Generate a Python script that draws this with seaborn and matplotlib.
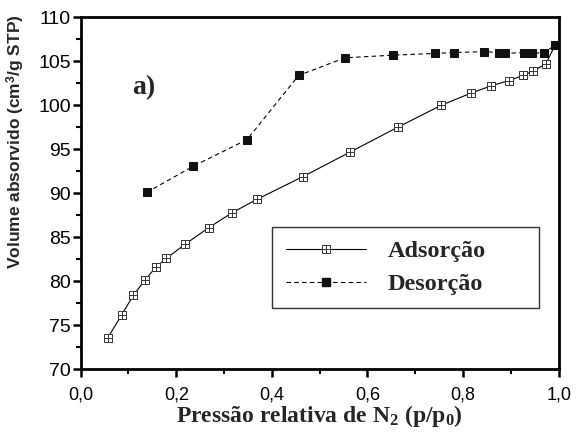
import numpy as np
import pandas as pd
import matplotlib
matplotlib.use("Agg")
import matplotlib.pyplot as plt
from matplotlib.path import Path
from matplotlib.lines import Line2D
from matplotlib.ticker import MultipleLocator, FuncFormatter
import seaborn as sns

# Data
ads_x = [0.057, 0.086, 0.110, 0.134, 0.157, 0.179, 0.218, 0.268, 0.317, 0.368,
         0.465, 0.564, 0.663, 0.754, 0.817, 0.858, 0.895, 0.926, 0.946, 0.973, 0.992]
ads_y = [73.6, 76.2, 78.4, 80.1, 81.6, 82.6, 84.2, 86.1, 87.8, 89.3,
         91.9, 94.7, 97.5, 100.0, 101.4, 102.2, 102.8, 103.4, 103.9, 104.7, 106.8]
des_x = [0.138, 0.236, 0.348, 0.456, 0.553, 0.654, 0.742, 0.782, 0.843, 0.875,
         0.887, 0.927, 0.944, 0.969, 0.992]
des_y = [90.1, 93.1, 96.1, 103.4, 105.4, 105.7, 105.9, 106.0, 106.1, 106.0,
         105.9, 106.0, 105.9, 106.0, 106.8]
series_names = ["Adsorção", "Desorção"]
x_ticks = [0.0, 0.2, 0.4, 0.6, 0.8, 1.0]
y_ticks = [70, 75, 80, 85, 90, 95, 100, 105, 110]

sns.set_theme(style="ticks")
plt.rcParams["font.family"] = ["Liberation Sans", "DejaVu Sans"]
plt.rcParams["mathtext.fontset"] = "custom"
plt.rcParams["mathtext.rm"] = "Liberation Serif:bold"
plt.rcParams["mathtext.it"] = "Liberation Serif:bold"
plt.rcParams["mathtext.bf"] = "Liberation Serif:bold"
plt.rcParams["mathtext.sf"] = "Liberation Sans:bold"

# Square marker with a cross inside (grid-square)
verts = [(-1, -1), (1, -1), (1, 1), (-1, 1), (-1, -1),
         (0, -1), (0, 1), (-1, 0), (1, 0)]
codes = [Path.MOVETO, Path.LINETO, Path.LINETO, Path.LINETO, Path.CLOSEPOLY,
         Path.MOVETO, Path.LINETO, Path.MOVETO, Path.LINETO]
grid_sq = Path(verts, codes)

fig = plt.figure(figsize=(5.76, 4.33), dpi=100)
ax = fig.add_axes([0.140, 0.147, 0.830, 0.813])

df_a = pd.DataFrame({"x": ads_x, "y": ads_y})
df_d = pd.DataFrame({"x": des_x, "y": des_y})

ads_style = dict(color="black", lw=0.8, marker=grid_sq, markersize=6.2,
                 markerfacecolor="white", markeredgecolor="#333333",
                 markeredgewidth=0.7)
des_style = dict(color="black", lw=0.8, linestyle=(0, (4, 3)), marker="s",
                 markersize=6.3, markerfacecolor="#111111",
                 markeredgecolor="#111111")

sns.lineplot(data=df_a, x="x", y="y", ax=ax, sort=False, **ads_style)
sns.lineplot(data=df_d, x="x", y="y", ax=ax, sort=False, **des_style)

ax.set_xlim(0, 1.0)
ax.set_ylim(70, 110)
ax.set_xticks(x_ticks)
ax.set_yticks(y_ticks)
ax.xaxis.set_minor_locator(MultipleLocator(0.1))
ax.yaxis.set_minor_locator(MultipleLocator(2.5))
ax.xaxis.set_major_formatter(FuncFormatter(lambda v, p: f"{v:.1f}".replace(".", ",")))
ax.tick_params(axis="both", which="major", direction="out", length=6, width=1.8,
               color="black", labelcolor="black")
ax.tick_params(axis="x", which="major", labelsize=13, pad=6)
ax.tick_params(axis="y", which="major", labelsize=14, pad=1)
ax.tick_params(axis="both", which="minor", direction="out", length=3.5, width=1.5,
               color="black")
for sp in ax.spines.values():
    sp.set_linewidth(2.0)
    sp.set_color("black")
    sp.set_visible(True)

ax.set_xlabel("Pressão relativa de N$_2$ (p/p$_0$)", family="Liberation Serif",
              fontweight="bold", fontsize=17, labelpad=0)
ax.set_ylabel(r"Volume absorvido (cm$^{\mathsf{3}}$/g STP)", fontsize=12.5,
              fontweight="bold")
ax.yaxis.set_label_coords(-0.112, 0.647)

ax.text(0.108, 0.80, "a)", transform=ax.transAxes, family="Liberation Serif",
        fontweight="bold", fontsize=20, va="center", ha="left")

h1 = Line2D([], [], **ads_style)
h2 = Line2D([], [], **des_style)
leg = ax.legend([h1, h2], series_names, loc="lower left",
                bbox_to_anchor=(0.401, 0.173, 0.558, 0.228), mode="expand",
                borderaxespad=0,
                prop={"family": "Liberation Serif", "weight": "bold", "size": 17.5},
                frameon=True, fancybox=False, edgecolor="black", handlelength=3.3,
                borderpad=0.55, labelspacing=0.45, handletextpad=0.9)
leg.get_frame().set_linewidth(1.0)

fig.savefig("out.png", dpi=100, facecolor="white")
